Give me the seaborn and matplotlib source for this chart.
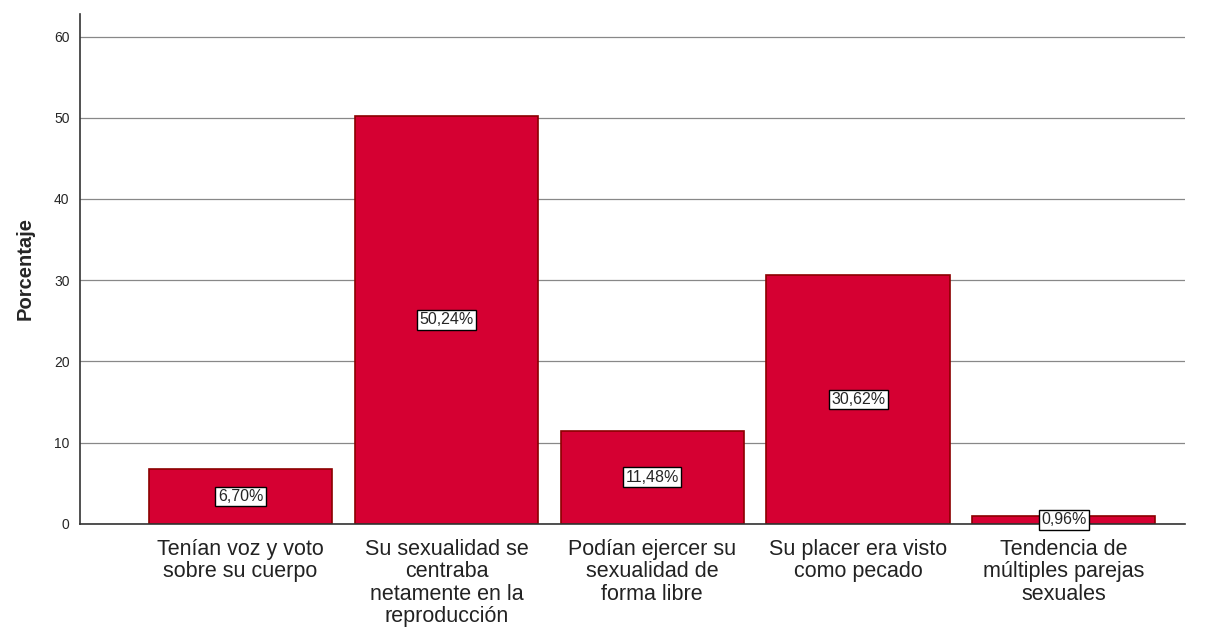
import matplotlib
matplotlib.use("Agg")
import matplotlib.pyplot as plt
import seaborn as sns
import pandas as pd

categories = [
    "Tenían voz y voto\nsobre su cuerpo",
    "Su sexualidad se\ncentraba\nnetamente en la\nreproducción",
    "Podían ejercer su\nsexualidad de\nforma libre",
    "Su placer era visto\ncomo pecado",
    "Tendencia de\nmúltiples parejas\nsexuales",
]
percentages = [6.70, 50.24, 11.48, 30.62, 0.96]
y_ticks = [0, 10, 20, 30, 40, 50, 60]

df = pd.DataFrame({"categoria": categories, "porcentaje": percentages})

sns.set_style("white")
plt.rcParams["font.family"] = ["Liberation Sans", "DejaVu Sans"]

fig = plt.figure(figsize=(12.12, 6.28), dpi=100)
ax = fig.add_axes([0.066, 0.166, 0.912, 0.812])

sns.barplot(data=df, x="categoria", y="porcentaje", color="#D50032",
            edgecolor="#8B0000", linewidth=1.2, width=0.89, saturation=1, ax=ax)

ax.set_ylim(0, 62.8)
ax.set_xlim(-0.78, 4.59)
ax.set_yticks(y_ticks)
ax.tick_params(axis="y", labelsize=10, length=4, color="#333333")
ax.tick_params(axis="x", labelsize=15.5, length=0, pad=11)
for lab in ax.get_xticklabels():
    lab.set_color("#222222")
    lab.set_linespacing(1.08)
ax.yaxis.grid(True, color="#888888", linewidth=0.9)
ax.set_axisbelow(True)

for side in ["top", "right"]:
    ax.spines[side].set_visible(False)
ax.spines["left"].set_color("#333333")
ax.spines["bottom"].set_color("#333333")
ax.spines["left"].set_linewidth(1.2)
ax.spines["bottom"].set_linewidth(1.2)

ax.set_xlabel("")
ax.set_ylabel("Porcentaje", fontsize=14.5, fontweight="bold", labelpad=14)

for i, v in enumerate(percentages):
    txt = f"{v:.2f}%".replace(".", ",")
    ax.text(i, v / 2, txt, ha="center", va="center", fontsize=11.5,
            bbox=dict(boxstyle="square,pad=0.15", facecolor="white",
                      edgecolor="black", linewidth=1.0))

fig.savefig("out.png", dpi=100)
